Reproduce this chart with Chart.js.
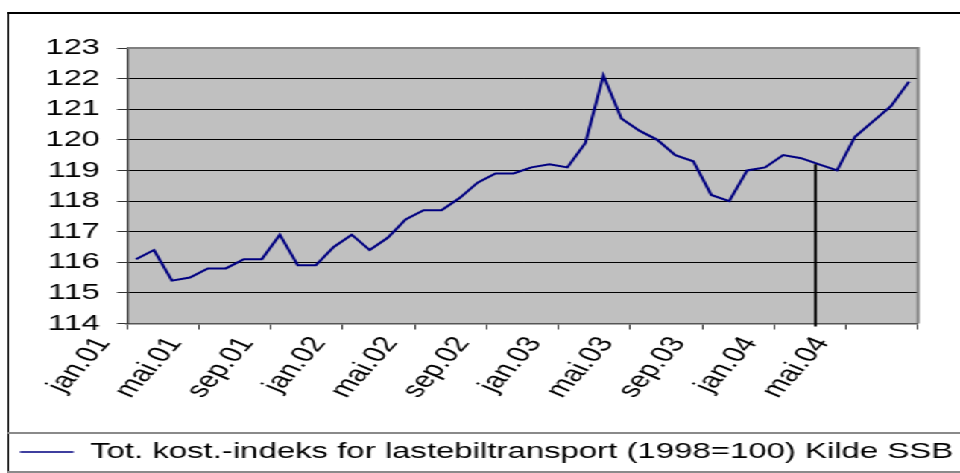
<!DOCTYPE html>
<html>
<head>
<meta charset="utf-8">
<title>Tot. kost.-indeks for lastebiltransport</title>
<script src="https://cdn.jsdelivr.net/npm/chart.js@4.4.1/dist/chart.umd.min.js"></script>
<style>
  html, body { margin: 0; padding: 0; background: #fff; overflow: hidden; }
  /* the original Excel chart is stretched sideways, so draw narrow and widen it */
  #stage { position: relative; width: 644px; height: 473px; transform: scaleX(1.4907); transform-origin: 0 0; }
  #frame { position: absolute; left: 4.5px; top: 12px; width: 700px; height: 480px;
           border-left: 1.8px solid #000; border-top: 2px solid #000; }
  #legendBox { position: absolute; left: 5px; top: 432px; width: 700px; height: 37px;
               border-top: 2px solid #8a8a8a; border-bottom: 2px solid #8a8a8a; }
  #chart { position: absolute; left: 0; top: 0; }
</style>
</head>
<body>
<div id="stage">
  <div id="frame"></div>
  <div id="legendBox"></div>
  <canvas id="chart" width="644" height="473"></canvas>
</div>
<script>
// monthly categories jan.01 .. aug.04
const months = [
  'jan.01', 'feb.01', 'mar.01', 'apr.01', 'mai.01', 'jun.01', 'jul.01', 'aug.01', 'sep.01', 'okt.01', 'nov.01', 'des.01',
  'jan.02', 'feb.02', 'mar.02', 'apr.02', 'mai.02', 'jun.02', 'jul.02', 'aug.02', 'sep.02', 'okt.02', 'nov.02', 'des.02',
  'jan.03', 'feb.03', 'mar.03', 'apr.03', 'mai.03', 'jun.03', 'jul.03', 'aug.03', 'sep.03', 'okt.03', 'nov.03', 'des.03',
  'jan.04', 'feb.04', 'mar.04', 'apr.04', 'mai.04', 'jun.04', 'jul.04', 'aug.04'
];

const indexValues = [
  116.1, 116.4, 115.4, 115.5, 115.8, 115.8, 116.1, 116.1, 116.9, 115.9, 115.9, 116.5,
  116.9, 116.4, 116.8, 117.4, 117.7, 117.7, 118.1, 118.6, 118.9, 118.9, 119.1, 119.2,
  119.1, 119.9, 122.1, 120.7, 120.3, 120.0, 119.5, 119.3, 118.2, 118.0, 119.0, 119.1,
  119.5, 119.4, 119.2, 119.0, 120.1, 120.6, 121.1, 121.9
];

const seriesLabel = 'Tot. kost.-indeks for lastebiltransport (1998=100) Kilde SSB';

// vertical marker line (position on the category axis, value where it starts)
const markerIndex = 37.8;
const markerValue = 119.2;

const yMin = 114;
const yMax = 123;
const labelEvery = 4;

const FONT = { family: '"Liberation Sans", Arial, sans-serif', size: 22 };
const LEGEND_FONT = { family: '"Liberation Sans", Arial, sans-serif', size: 22.1 };

const plotBg = {
  id: 'plotBg',
  beforeDraw(chart) {
    const { ctx, chartArea: a } = chart;
    ctx.save();
    ctx.fillStyle = '#c0c0c0';
    ctx.fillRect(a.left, a.top, a.right - a.left, a.bottom - a.top);
    ctx.restore();
  },
  beforeDatasetsDraw(chart) {
    // gray plot-area border on top and right
    const { ctx, chartArea: a } = chart;
    ctx.save();
    ctx.strokeStyle = '#808080';
    ctx.lineWidth = 2;
    ctx.beginPath();
    ctx.moveTo(a.left, a.top);
    ctx.lineTo(a.right, a.top);
    ctx.lineTo(a.right, a.bottom);
    ctx.stroke();
    ctx.restore();
  }
};

const markerLine = {
  id: 'markerLine',
  afterDatasetsDraw(chart) {
    const { ctx, scales: { x, y } } = chart;
    const px = x.getPixelForValue(markerIndex);
    ctx.save();
    ctx.strokeStyle = '#000';
    ctx.lineWidth = 1.8;
    ctx.beginPath();
    ctx.moveTo(px, y.getPixelForValue(markerValue));
    ctx.lineTo(px, y.bottom + 3);
    ctx.stroke();
    ctx.restore();
  }
};

const everyFourth = (c) => (c.type !== 'tick' || c.index % labelEvery === 0) ? '#333' : 'rgba(0,0,0,0)';

new Chart(document.getElementById('chart'), {
  type: 'line',
  data: {
    labels: months,
    datasets: [{
      label: seriesLabel,
      data: indexValues,
      borderColor: '#000080',
      backgroundColor: '#000080',
      borderWidth: 2,
      pointRadius: 0,
      fill: false,
      tension: 0,
    }]
  },
  options: {
    responsive: false,
    animation: false,
    layout: { padding: { top: 48, right: 0, bottom: 0, left: 0 } },
    plugins: {
      tooltip: { enabled: false },
      legend: {
        position: 'bottom',
        align: 'start',
        labels: {
          boxWidth: 36,
          boxHeight: 0,
          padding: 13.4,
          color: '#000',
          font: LEGEND_FONT,
          generateLabels(chart) {
            const items = Chart.defaults.plugins.legend.labels.generateLabels(chart);
            items.forEach(it => { it.lineWidth = 1.5; it.strokeStyle = '#000080'; });
            return items;
          }
        }
      }
    },
    scales: {
      x: {
        offset: true,
        grid: {
          offset: true,
          drawOnChartArea: false,
          tickLength: 6,
          color: everyFourth,
          tickColor: everyFourth,
        },
        border: { color: '#555', width: 1.5 },
        ticks: {
          autoSkip: false,
          // 58 degrees here shows as about 47 after the sideways stretch
          minRotation: 58,
          maxRotation: 58,
          labelOffset: -22,
          padding: 3,
          color: '#000',
          font: FONT,
          callback: (v, i) => (i % labelEvery === 0 ? months[i] : ''),
        },
        afterFit(scale) { scale.height = 104.0; }
      },
      y: {
        min: yMin,
        max: yMax,
        grid: { color: '#000', tickColor: '#333', tickLength: 6.7, lineWidth: 1 },
        border: { color: '#333', width: 1.3 },
        ticks: { stepSize: 1, padding: 11.4, color: '#000', font: FONT },
        afterFit(scale) { scale.width = 85.2; }
      },
      // empty right-hand strip so the legend can still use the full width
      spacer: {
        type: 'linear',
        position: 'right',
        grid: { drawOnChartArea: false, drawTicks: false },
        border: { display: false },
        ticks: { display: false },
        afterFit(scale) { scale.width = 28.2; }
      }
    }
  },
  plugins: [plotBg, markerLine]
});
</script>
</body>
</html>
